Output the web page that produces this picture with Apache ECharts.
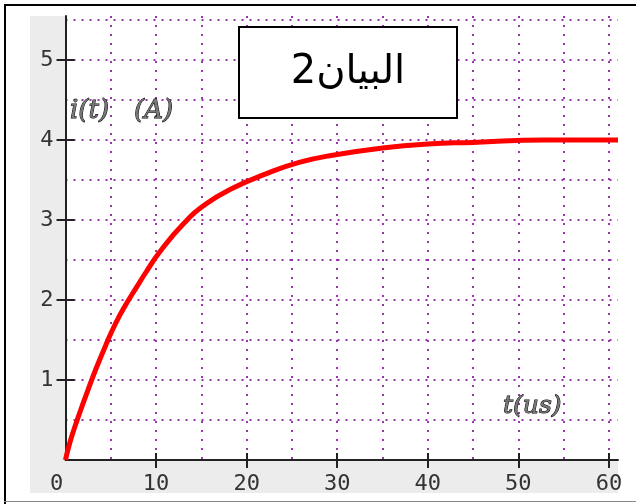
<!DOCTYPE html>
<html>
<head>
<meta charset="utf-8">
<script src="https://cdn.jsdelivr.net/npm/echarts@6/dist/echarts.min.js"></script>
<style>html,body{margin:0;padding:0;background:#fff}#c{width:636px;height:504px}</style>
</head>
<body>
<div id="c"></div>
<script>
// time in microseconds, current in amperes
var tValues = [0, 0.25, 0.7, 1.6, 2.5, 3.4, 4.5, 5.5, 6.6, 7.9, 8.9, 10.4, 13, 15.5, 18.5, 22.2, 25.8, 29.5, 35, 40, 45, 53, 61];
var iValues = [0, 0.12, 0.3, 0.6, 0.88, 1.15, 1.45, 1.7, 1.93, 2.17, 2.35, 2.6, 2.95, 3.2, 3.4, 3.58, 3.72, 3.81, 3.9, 3.95, 3.97, 4.0, 4.0];
var xTickValues = [10, 20, 30, 40, 50, 60];
var xLabelValues = [0, 10, 20, 30, 40, 50, 60];
var yTickValues = [1, 2, 3, 4, 5];
var titleText = 'البيان2';
var yNameParts = ['i(t)', '(A)'];
var xName = 't(us)';

var X_MAX = 61, Y_MAX = 5.55;
var gridColor = '#9a35ac';
var labelFont = {fontFamily: 'DejaVu Sans Mono', fontSize: 22, color: '#333'};

var data = tValues.map(function (t, k) { return [t, iValues[k]]; });

var chart = echarts.init(document.getElementById('c'), null, {renderer: 'canvas'});
var hidden = {show: false};
var nameStyle = {fontFamily: 'DejaVu Serif', fontStyle: 'italic', fontSize: 26, fill: '#777', stroke: '#000', lineWidth: 1, align: 'left', verticalAlign: 'middle'};
chart.setOption({
  backgroundColor: '#fff',
  animation: false,
  grid: {left: 65.5, top: 16, width: 552.5, height: 444, outerBoundsMode: 'none'},
  xAxis: [
    {
      type: 'value', min: 0, max: X_MAX, interval: 5,
      axisLine: {show: true, lineStyle: {color: '#222', width: 2}},
      axisTick: hidden, axisLabel: hidden,
      splitLine: {show: true, showMinLine: false, showMaxLine: false,
        lineStyle: {color: gridColor, width: 2, type: [2, 7]}}
    },
    {
      type: 'value', min: 0, max: X_MAX, position: 'bottom',
      axisLine: hidden, splitLine: hidden,
      axisTick: {show: true, inside: false, length: 8, customValues: xTickValues, lineStyle: {color: '#222', width: 2}},
      axisLabel: Object.assign({show: true, margin: 13, customValues: xLabelValues,
        formatter: function (v) { return v === 0 ? '{z|0}' : String(v); },
        rich: {z: Object.assign({padding: [0, 18, 0, 0]}, labelFont)}}, labelFont)
    },
    {
      type: 'value', min: 0, max: X_MAX, position: 'bottom',
      axisLine: hidden, splitLine: hidden, axisLabel: hidden,
      axisTick: {show: true, inside: true, length: 7, customValues: xTickValues, lineStyle: {color: '#222', width: 2}}
    }
  ],
  yAxis: [
    {
      type: 'value', min: 0, max: Y_MAX, interval: 0.5,
      axisLine: {show: true, lineStyle: {color: '#222', width: 2}},
      axisTick: hidden, axisLabel: hidden,
      splitLine: {show: true, showMinLine: false, showMaxLine: false,
        lineStyle: {color: gridColor, width: 2, type: [2, 6]}}
    },
    {
      type: 'value', min: 0, max: Y_MAX, position: 'left',
      axisLine: hidden, splitLine: hidden,
      axisTick: {show: true, inside: false, length: 9, customValues: yTickValues, lineStyle: {color: '#222', width: 2}},
      axisLabel: Object.assign({show: true, margin: 12, customValues: yTickValues}, labelFont)
    },
    {
      type: 'value', min: 0, max: Y_MAX, position: 'left',
      axisLine: hidden, splitLine: hidden, axisLabel: hidden,
      axisTick: {show: true, inside: true, length: 9, customValues: yTickValues, lineStyle: {color: '#222', width: 2}}
    }
  ],
  series: [{
    type: 'line', xAxisIndex: 0, yAxisIndex: 0,
    data: data, smooth: 0.5, showSymbol: false, z: 5,
    lineStyle: {color: '#ff0000', width: 5}
  }],
  graphic: [
    {type: 'rect', z: -10, silent: true, shape: {x: 30, y: 16, width: 36, height: 477}, style: {fill: '#ececec'}},
    {type: 'rect', z: -10, silent: true, shape: {x: 30, y: 460, width: 588, height: 33}, style: {fill: '#ececec'}},
    {type: 'line', z: 50, shape: {x1: 5, y1: 4, x2: 5, y2: 504}, style: {stroke: '#000', lineWidth: 2}},
    {type: 'line', z: 50, shape: {x1: 4, y1: 5, x2: 636, y2: 5}, style: {stroke: '#000', lineWidth: 2}},
    {type: 'line', z: 50, shape: {x1: 4, y1: 501.5, x2: 636, y2: 501.5}, style: {stroke: '#888', lineWidth: 1}},
    {type: 'rect', z: 100, shape: {x: 239, y: 27, width: 218, height: 91}, style: {fill: '#fff', stroke: '#000', lineWidth: 2}},
    {type: 'text', z: 101, x: 348, y: 73, style: {text: titleText, fontFamily: 'DejaVu Sans', fontSize: 40, fill: '#000', align: 'center', verticalAlign: 'middle'}},
    {type: 'text', z: 101, x: 70, y: 111, style: Object.assign({text: yNameParts[0]}, nameStyle)},
    {type: 'text', z: 101, x: 134, y: 111, style: Object.assign({text: yNameParts[1]}, nameStyle)},
    {type: 'text', z: 101, x: 503, y: 406, style: Object.assign({text: xName}, nameStyle, {fontSize: 25})}
  ]
});
</script>
</body>
</html>
